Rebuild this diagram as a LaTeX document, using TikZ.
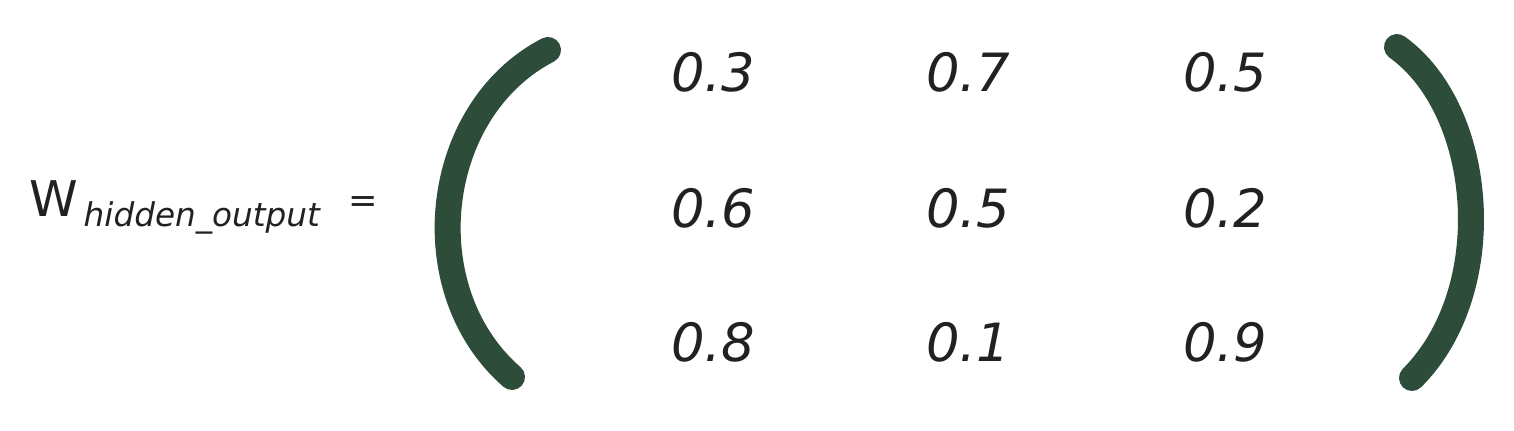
\documentclass[tikz,border=0pt]{standalone}
\usepackage{fontspec}
\setmainfont{DejaVu Sans}
\usepackage{tikz}
\definecolor{bracketgreen}{RGB}{46,76,58}
\definecolor{inkgray}{RGB}{32,34,32}

\begin{document}
\begin{tikzpicture}[
    entry/.style={text=inkgray,font=\fontsize{15}{17}\selectfont\itshape},
    bracket/.style={draw=bracketgreen,line width=0.26cm,line cap=round}
  ]
    \useasboundingbox (0,0) rectangle (15.14,4.31);
    \node[text=inkgray,font=\fontsize{14}{16}\selectfont,anchor=base,inner sep=0pt] (W) at (0.54,2.14) {W};
    \node[text=inkgray,font=\fontsize{9.3}{11}\selectfont\itshape,anchor=base west,inner sep=0pt] (sub) at (0.83,2.04) {hidden\_output};
    \node[text=inkgray,font=\fontsize{10}{12}\selectfont] (eq) at (3.63,2.26) {=};
    \draw[bracket] (5.48,3.81) .. controls (4.32,3.21) and (4.12,1.41) .. (5.12,0.54);
    \draw[bracket] (13.97,3.84) .. controls (14.85,3.21) and (15.00,1.41) .. (14.12,0.53);
    \node[entry] (w11) at (7.13,3.59) {0.3};
    \node[entry] (w12) at (9.68,3.59) {0.7};
    \node[entry] (w13) at (12.25,3.59) {0.5};
    \node[entry] (w21) at (7.13,2.23) {0.6};
    \node[entry] (w22) at (9.68,2.23) {0.5};
    \node[entry] (w23) at (12.25,2.23) {0.2};
    \node[entry] (w31) at (7.13,0.89) {0.8};
    \node[entry] (w32) at (9.68,0.89) {0.1};
    \node[entry] (w33) at (12.25,0.89) {0.9};
\end{tikzpicture}
\end{document}
